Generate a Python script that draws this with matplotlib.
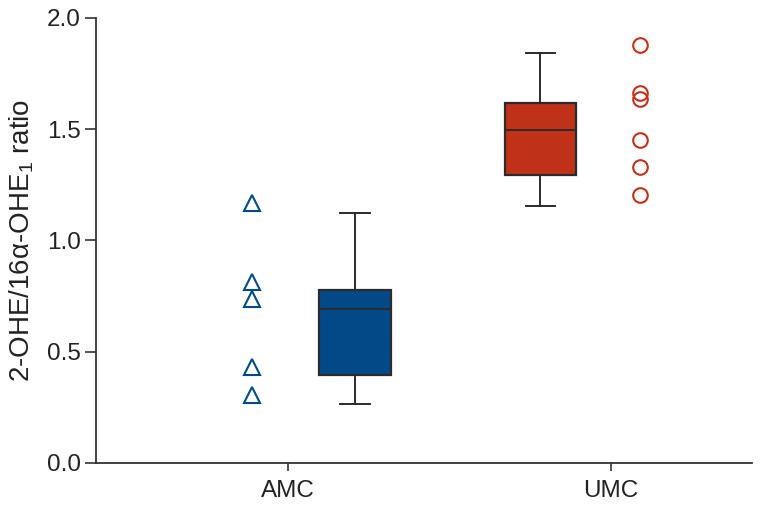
import matplotlib
matplotlib.use("Agg")
import matplotlib.pyplot as plt

plt.rcParams['font.family'] = ['Liberation Sans', 'DejaVu Sans']
plt.rcParams['mathtext.fontset'] = 'custom'
plt.rcParams['mathtext.rm'] = 'Liberation Sans'
plt.rcParams['mathtext.it'] = 'Liberation Sans:italic'

categories = ['AMC', 'UMC']
amc_points = [1.168, 0.813, 0.737, 0.431, 0.306]
umc_points = [1.879, 1.663, 1.636, 1.452, 1.330, 1.204]
# box stats: whislo, q1, med, q3, whishi
amc_box = [0.265, 0.396, 0.692, 0.778, 1.124]
umc_box = [1.155, 1.294, 1.497, 1.618, 1.843]
yticks = [0.0, 0.5, 1.0, 1.5, 2.0]

blue = '#024a87'
red = '#c0311a'
edge = '#2b2b2b'

fig = plt.figure(figsize=(7.64, 5.08), dpi=100)
ax = fig.add_axes([0.1257, 0.0886, 0.8586, 0.876])

stats = []
for lab, b in zip(categories, [amc_box, umc_box]):
    stats.append(dict(label=lab, whislo=b[0], q1=b[1], med=b[2], q3=b[3], whishi=b[4], fliers=[]))

box_pos = [0.207, 0.782]
bp = ax.bxp(stats, positions=box_pos, widths=0.222, patch_artist=True, showfliers=False,
            manage_ticks=False,
            boxprops=dict(edgecolor=edge, linewidth=1.6),
            medianprops=dict(color=edge, linewidth=1.4),
            whiskerprops=dict(color=edge, linewidth=1.4),
            capprops=dict(color=edge, linewidth=1.4))
for patch, c in zip(bp['boxes'], [blue, red]):
    patch.set_facecolor(c)
for cap in bp['caps']:
    xd = cap.get_xdata()
    m = (xd[0] + xd[1]) / 2
    cap.set_xdata([m - 0.046, m + 0.046])

ax.plot([-0.111] * len(amc_points), amc_points, linestyle='none', marker='^',
        markersize=11.5, markerfacecolor='none', markeredgecolor=blue, markeredgewidth=1.5)
ax.plot([1.090] * len(umc_points), umc_points, linestyle='none', marker='o',
        markersize=10.5, markerfacecolor='none', markeredgecolor=red, markeredgewidth=1.5)

ax.set_xlim(-0.594, 1.437)
ax.set_ylim(0, 2.0)
ax.set_xticks([0, 1])
ax.set_xticklabels(categories)
ax.set_yticks(yticks)
ax.set_yticklabels([f'{v:.1f}' for v in yticks])
ax.tick_params(axis='both', labelsize=17.5, length=8, width=1.2, color='#333333', labelcolor='#222222')
ax.tick_params(axis='y', pad=3)
ax.tick_params(axis='x', length=6, pad=6)
for s in ['top', 'right']:
    ax.spines[s].set_visible(False)
for s in ['left', 'bottom']:
    ax.spines[s].set_linewidth(1.3)
    ax.spines[s].set_color('#333333')

ax.set_ylabel('2-OHE/16\u03b1-OHE$_1$ ratio', fontsize=20, color='#222222', labelpad=8)

fig.savefig('out.png', dpi=100)
